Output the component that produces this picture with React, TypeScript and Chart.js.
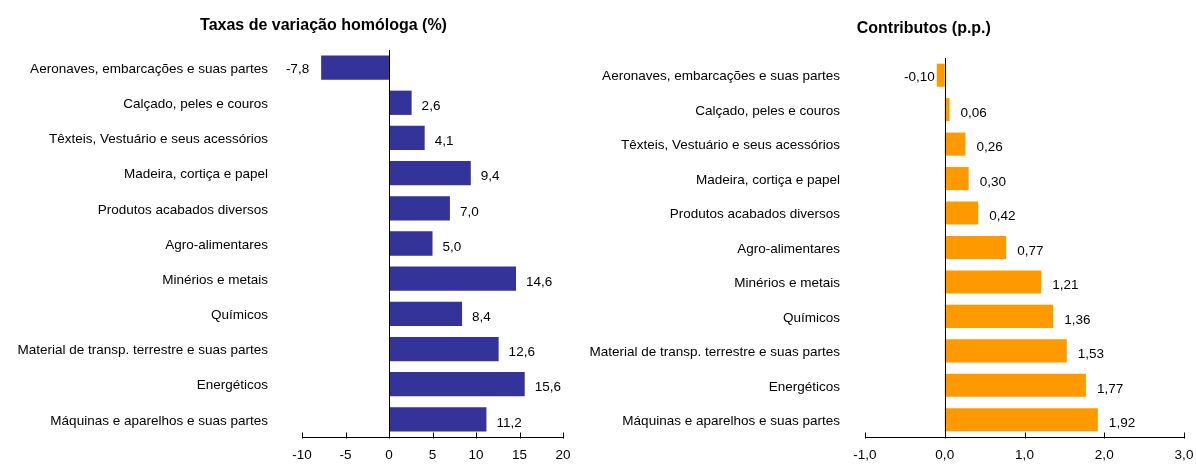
import React, { useEffect, useRef } from "react";
import { Chart, registerables } from "chart.js";

Chart.register(...registerables);

const categories = [
  "Aeronaves, embarcações e suas partes",
  "Calçado, peles e couros",
  "Têxteis, Vestuário e seus acessórios",
  "Madeira, cortiça e papel",
  "Produtos acabados diversos",
  "Agro-alimentares",
  "Minérios e metais",
  "Químicos",
  "Material de transp. terrestre e suas partes",
  "Energéticos",
  "Máquinas e aparelhos e suas partes",
];

const taxas = [-7.8, 2.6, 4.1, 9.4, 7.0, 5.0, 14.6, 8.4, 12.6, 15.6, 11.2];
const contributos = [-0.1, 0.06, 0.26, 0.3, 0.42, 0.77, 1.21, 1.36, 1.53, 1.77, 1.92];

const taxasAxis = { min: -10, max: 20, step: 5, decimals: 0 };
const contribAxis = { min: -1, max: 3, step: 1, decimals: 1 };

const leftTitle = "Taxas de variação homóloga (%)";
const rightTitle = "Contributos (p.p.)";

const FONT = "'Liberation Sans', Arial, sans-serif";
const FS = 13.5;

const fmt = (v: number, d: number) => v.toFixed(d).replace(".", ",");

const axisPlugin = {
  id: "axisDraw",
  afterDatasetsDraw(chart: any) {
    const { ctx, chartArea } = chart;
    const x = chart.scales.x;
    ctx.save();
    ctx.strokeStyle = "#000";
    ctx.lineWidth = 1;
    const x0 = Math.round(x.getPixelForValue(0)) + 0.5;
    ctx.beginPath();
    ctx.moveTo(x0, chartArea.top);
    ctx.lineTo(x0, chartArea.bottom);
    ctx.stroke();
    const yb = Math.round(chartArea.bottom) + 0.5;
    ctx.beginPath();
    ctx.moveTo(x.left, yb);
    ctx.lineTo(x.right, yb);
    x.ticks.forEach((t: any) => {
      const px = Math.round(x.getPixelForValue(t.value)) + 0.5;
      ctx.moveTo(px, yb - 5);
      ctx.lineTo(px, yb + 1);
    });
    ctx.stroke();
    ctx.restore();
  },
};

const labelPlugin = {
  id: "barLabels",
  afterDatasetsDraw(chart: any, _args: any, opts: any) {
    const { ctx } = chart;
    const meta = chart.getDatasetMeta(0);
    const data = chart.data.datasets[0].data as number[];
    ctx.save();
    ctx.font = `${FS}px ${FONT}`;
    ctx.fillStyle = "#000";
    ctx.textBaseline = "middle";
    meta.data.forEach((el: any, i: number) => {
      const v = data[i];
      const txt = fmt(v, opts.decimals);
      if (v >= 0) {
        ctx.textAlign = "left";
        ctx.fillText(txt, el.x + opts.posGap, el.y + 3.5);
      } else {
        ctx.textAlign = "right";
        ctx.fillText(txt, el.x - opts.negGap, el.y + 2);
      }
    });
    ctx.restore();
  },
};

const titlePlugin = {
  id: "fixedTitle",
  afterDraw(chart: any, _args: any, opts: any) {
    const { ctx } = chart;
    ctx.save();
    ctx.font = `bold 16px ${FONT}`;
    ctx.fillStyle = "#000";
    ctx.textAlign = "center";
    ctx.textBaseline = "alphabetic";
    ctx.fillText(opts.text, opts.x, opts.y);
    ctx.restore();
  },
};

function makeConfig(values: number[], color: string, p: any): any {
  return {
    type: "bar",
    data: {
      labels: categories,
      datasets: [
        {
          data: values,
          backgroundColor: color,
          borderWidth: 0,
          barPercentage: p.barPct,
          categoryPercentage: 1,
        },
      ],
    },
    options: {
      indexAxis: "y",
      responsive: false,
      animation: false,
      layout: { padding: { top: p.top, right: p.right, left: 0, bottom: 0 } },
      plugins: {
        legend: { display: false },
        tooltip: { enabled: false },
        title: { display: false },
        barLabels: { decimals: p.decimals, posGap: p.posGap, negGap: p.negGap },
        fixedTitle: { text: p.title, x: p.titleX, y: p.titleY },
      },
      scales: {
        x: {
          min: p.axis.min,
          max: p.axis.max,
          grid: { display: false, drawTicks: true, tickLength: 10 },
          border: { display: false },
          ticks: {
            stepSize: p.axis.step,
            padding: 0,
            color: "#000",
            font: { family: FONT, size: FS },
            maxRotation: 0,
            autoSkip: false,
            callback: (v: any) => fmt(Number(v), p.axis.decimals),
          },
          afterFit: (s: any) => {
            s.height = 27;
          },
        },
        y: {
          grid: { display: false, drawTicks: true, tickLength: p.labelPad },
          border: { display: false },
          ticks: {
            padding: 0,
            labelOffset: 1.5,
            color: "#000",
            font: { family: FONT, size: FS },
            autoSkip: false,
          },
          afterFit: (s: any) => {
            s.width = p.yWidth;
          },
        },
      },
    },
    plugins: [axisPlugin, labelPlugin, titlePlugin],
  };
}

export default function App() {
  const leftRef = useRef<HTMLCanvasElement>(null);
  const rightRef = useRef<HTMLCanvasElement>(null);

  useEffect(() => {
    const c1 = new Chart(
      leftRef.current!,
      makeConfig(taxas, "#333399", {
        barPct: 0.69,
        top: 50,
        right: 37,
        yWidth: 302,
        labelPad: 34,
        axis: taxasAxis,
        decimals: 1,
        posGap: 10,
        negGap: 12,
        title: leftTitle,
        titleX: 323.5,
        titleY: 29.5,
      })
    );
    const c2 = new Chart(
      rightRef.current!,
      makeConfig(contributos, "#FF9900", {
        barPct: 0.67,
        top: 58,
        right: 12,
        yWidth: 285,
        labelPad: 25,
        axis: contribAxis,
        decimals: 2,
        posGap: 11,
        negGap: 2,
        title: rightTitle,
        titleX: 343.8,
        titleY: 33,
      })
    );
    return () => {
      c1.destroy();
      c2.destroy();
    };
  }, []);

  return (
    <div style={{ position: "absolute", left: 0, top: 0, width: 1196, height: 464, background: "#fff" }}>
      <canvas ref={leftRef} width={600} height={464} style={{ position: "absolute", left: 0, top: 0 }} />
      <canvas ref={rightRef} width={616} height={464} style={{ position: "absolute", left: 580, top: 0 }} />
    </div>
  );
}
